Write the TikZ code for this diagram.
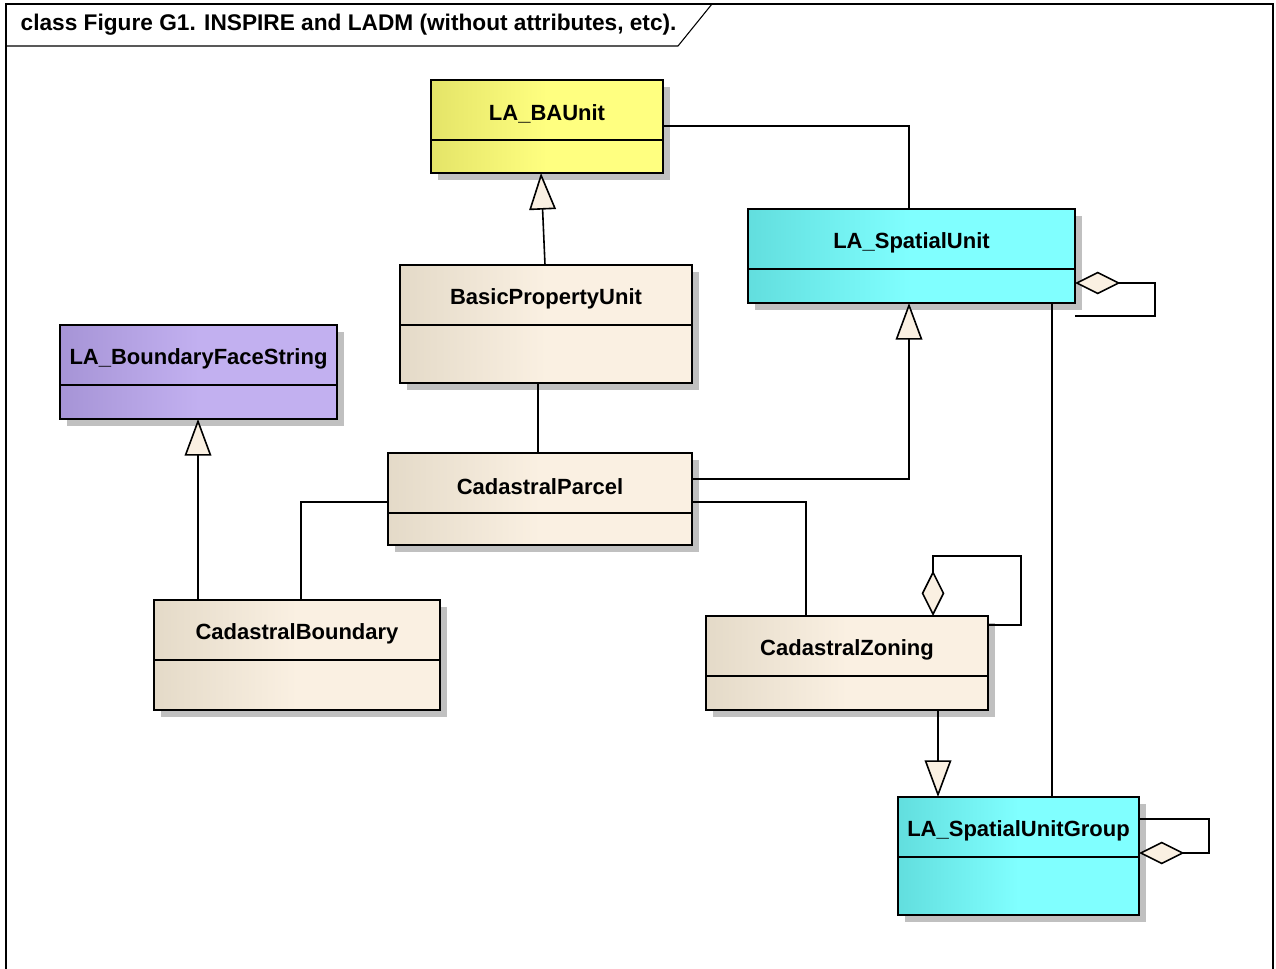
\documentclass[tikz,border=0pt]{standalone}
\usepackage{fontspec}
\setmainfont{Liberation Sans}
\usepackage{tikz}
\usetikzlibrary{arrows.meta,calc,positioning}
\definecolor{yelD}{RGB}{228,228,104}
\definecolor{yelL}{RGB}{255,255,128}
\definecolor{cynD}{RGB}{98,222,222}
\definecolor{cynL}{RGB}{128,255,255}
\definecolor{prpD}{RGB}{166,148,214}
\definecolor{prpL}{RGB}{194,176,240}
\definecolor{bgeD}{RGB}{228,218,200}
\definecolor{bgeL}{RGB}{250,240,226}
\definecolor{shadowgray}{RGB}{192,192,192}
\tikzset{%
	classbox/.style = {draw, rectangle, line width=1.2pt, inner sep=0pt, outer sep=0pt, anchor=north west},
	yelbox/.style   = {left color=yelD, right color=yelL, middle color=yelL},
	cynbox/.style   = {left color=cynD, right color=cynL, middle color=cynL},
	prpbox/.style   = {left color=prpD, right color=prpL, middle color=prpL},
	bgebox/.style   = {left color=bgeD, right color=bgeL, middle color=bgeL},
	assoc/.style    = {line width=1.2pt},
	gen/.style      = {line width=1.2pt, -{Triangle[fill=bgeL, length=27.5pt, width=20pt]}},
	agg/.style      = {line width=1.2pt, -{Diamond[fill=bgeL, length=34pt, width=17pt]}},
}
\newcommand{\clsfont}{\bfseries\fontsize{16.5}{19}\selectfont}

\begin{document}
\begin{tikzpicture}[x=0.75pt,y=-0.75pt]
		\useasboundingbox (0,0) rectangle (1276,969);
		% frame and title tab
		\draw[line width=0.8pt] (6,969) -- (6,4) -- (1273,4) -- (1273,969);
		\draw[line width=0.8pt] (712,4) -- (678,46) -- (6,46);
		\node[anchor=west, font=\bfseries\fontsize{17}{20}\selectfont] (title) at (16,25) {class Figure G1. INSPIRE and LADM (without attributes, etc).};
		
		% classes
		\foreach \name/\x/\y/\w/\h/\col/\txt in {
			bau/431/80/232/93/yelbox/LA\_BAUnit,
			su/748/209/327/94/cynbox/LA\_SpatialUnit,
			bpu/400/265/292/118/bgebox/BasicPropertyUnit,
			bfs/60/325/277/94/prpbox/LA\_BoundaryFaceString,
			cp/388/453/304/92/bgebox/CadastralParcel,
			cb/154/600/286/110/bgebox/CadastralBoundary,
			cz/706/616/282/94/bgebox/CadastralZoning,
			sug/898/797/241/118/cynbox/LA\_SpatialUnitGroup}
		{
			\fill[shadowgray] (\x+7,\y+7) rectangle ++(\w,\h);
			\node[classbox, \col, minimum width=\w*0.75pt, minimum height=\h*0.75pt,
				label={[anchor=center, yshift=-25.5pt, font=\clsfont]north:\txt}] (\name) at (\x,\y) {};
			\draw[line width=1.2pt] (\name.north west) ++(0,60) -- ++(\w,0);
		}
		
		% generalizations
		\draw[gen] (545,0 |- bpu.north) -- (541,0 |- bau.south);
		\draw[gen] (cp.east |- 0,479) -| (909,0 |- su.south);
		\draw[gen] (198,0 |- cb.north) -- (198,0 |- bfs.south);
		\draw[gen] (938,0 |- cz.south) -- (938,0 |- sug.north);
		
		% associations
		\draw[assoc] (bau.east |- 0,126) -| (909,0 |- su.north);
		\draw[assoc] (1052,0 |- su.south) -- (1052,0 |- sug.north);
		\draw[assoc] (538,0 |- bpu.south) -- (538,0 |- cp.north);
		\draw[assoc] (cp.west |- 0,502) -| (301,0 |- cb.north);
		\draw[assoc] (cp.east |- 0,502) -| (806,0 |- cz.north);
		
		% aggregations
		\draw[agg] (su.east |- 0,316) -| (1155,283) -- (su.east |- 0,283);
		\draw[agg] (cz.east |- 0,625) -| (1021,556) -| (933,0 |- cz.north);
		\draw[agg] (sug.east |- 0,819) -| (1209,853) -- (sug.east |- 0,853);
		
\end{tikzpicture}
\end{document}
